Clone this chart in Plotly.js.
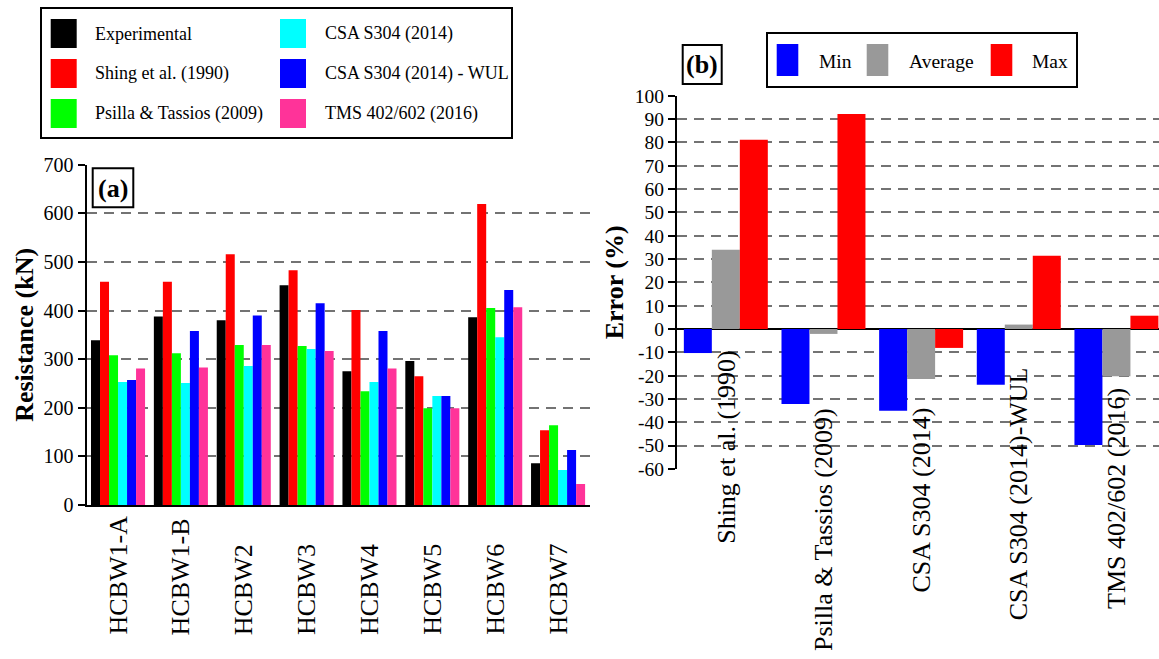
<!DOCTYPE html>
<html>
<head>
<meta charset="utf-8">
<script src="https://cdn.plot.ly/plotly-3.0.1.min.js"></script>
<style>html,body{margin:0;padding:0;background:#fff;}#chart{width:1159px;height:659px;}</style>
</head>
<body>
<div id="chart"></div>
<script>
// ---------- Data (a) ----------
const categories = ['HCBW1-A','HCBW1-B','HCBW2','HCBW3','HCBW4','HCBW5','HCBW6','HCBW7'];
const experimental = [339, 388, 380, 452, 275, 296, 386, 86];
const shing        = [459, 459, 516, 483, 401, 265, 619, 154];
const psilla       = [308, 312, 329, 327, 234, 199, 405, 164];
const csa          = [253, 251, 286, 321, 253, 224, 345, 72];
const csaWul       = [257, 358, 390, 415, 358, 224, 442, 113];
const tms          = [281, 283, 329, 317, 281, 199, 407, 43];
const seriesNames  = ['Experimental','Shing et al. (1990)','Psilla & Tassios (2009)','CSA S304 (2014)','CSA S304 (2014) - WUL','TMS 402/602 (2016)'];
const resistanceTicks = [0,100,200,300,400,500,600,700];

// ---------- Data (b) ----------
const methods = ['Shing et al. (1990)','Psilla & Tassios (2009)','CSA S304 (2014)','CSA S304 (2014)-WUL','TMS 402/602 (2016)'];
const errMin = [-10.3, -32.1, -35.0, -23.9, -49.7];
const errAvg = [34.0, -2.1, -21.4, 1.9, -20.3];
const errMax = [81.1, 92.2, -8.1, 31.4, 5.7];
const errNames = ['Min','Average','Max'];
const errorTicks = [-60,-50,-40,-30,-20,-10,0,10,20,30,40,50,60,70,80,90,100];

// ---------- Styles ----------
const W = 1159, H = 659;
const PX = x => x / W;
const PY = y => 1 - y / H;
const FONT = 'Liberation Serif';
const colorsA = ['#000000','#ff0000','#00ff00','#00ffff','#0000ff','#ff3399'];
const colorsB = ['#0000ff','#999999','#ff0000'];
const seriesA = [experimental, shing, psilla, csa, csaWul, tms];
const seriesB = [errMin, errAvg, errMax];

const traces = [];
seriesA.forEach((vals, i) => traces.push({
  type: 'bar', name: seriesNames[i], x: categories, y: vals,
  marker: {color: colorsA[i], line: {width: 0}},
  xaxis: 'x', yaxis: 'y', showlegend: false, hoverinfo: 'x+y+name'
}));
seriesB.forEach((vals, i) => traces.push({
  type: 'bar', name: errNames[i], x: methods, y: vals,
  marker: {color: colorsB[i], line: {width: 0}},
  xaxis: 'x2', yaxis: 'y2', showlegend: false, hoverinfo: 'x+y+name'
}));

const gridStyle = {gridcolor: '#737373', gridwidth: 2, griddash: '10px,7px'};

const shapes = [];
const annotations = [];

// Legend (a)
shapes.push({type:'rect', xref:'paper', yref:'paper', x0:PX(41), x1:PX(512), y0:PY(8), y1:PY(138), line:{color:'#000', width:2}, fillcolor:'rgba(0,0,0,0)'});
const legRowsA = [33.5, 73.5, 113.5];
const legColA = [{sx:50.7, tx:93}, {sx:280, tx:323}];
seriesNames.forEach((nm, i) => {
  const col = legColA[Math.floor(i/3)], ry = legRowsA[i%3];
  shapes.push({type:'rect', xref:'paper', yref:'paper', x0:PX(col.sx), x1:PX(col.sx+26), y0:PY(ry-14.5), y1:PY(ry+14.5), line:{width:0}, fillcolor:colorsA[i]});
  annotations.push({xref:'paper', yref:'paper', x:PX(col.tx), y:PY(ry), xanchor:'left', yanchor:'middle', text:nm, showarrow:false, font:{family:FONT, size:18, color:'#000'}});
});

// Legend (b)
shapes.push({type:'rect', xref:'paper', yref:'paper', x0:PX(767), x1:PX(1077), y0:PY(33), y1:PY(87), line:{color:'#000', width:2}, fillcolor:'rgba(0,0,0,0)'});
const legB = [{sx:776.7, tx:817}, {sx:866.7, tx:906.5}, {sx:990.7, tx:1030}];
errNames.forEach((nm, i) => {
  shapes.push({type:'rect', xref:'paper', yref:'paper', x0:PX(legB[i].sx), x1:PX(legB[i].sx+21.6), y0:PY(44), y1:PY(76), line:{width:0}, fillcolor:colorsB[i]});
  annotations.push({xref:'paper', yref:'paper', x:PX(legB[i].tx), y:PY(61), xanchor:'left', yanchor:'middle', text:nm, showarrow:false, font:{family:FONT, size:19.5, color:'#000'}});
});

// Panel labels
shapes.push({type:'rect', xref:'paper', yref:'paper', x0:PX(92.7), x1:PX(133.3), y0:PY(168.3), y1:PY(207.3), line:{color:'#000', width:2}, fillcolor:'#fff'});
annotations.push({xref:'paper', yref:'paper', x:PX(113), y:PY(188), xanchor:'center', yanchor:'middle', text:'<b>(a)</b>', showarrow:false, font:{family:FONT, size:26, color:'#000'}});
shapes.push({type:'rect', xref:'paper', yref:'paper', x0:PX(682.7), x1:PX(721.7), y0:PY(45), y1:PY(84), line:{color:'#000', width:2}, fillcolor:'#fff'});
annotations.push({xref:'paper', yref:'paper', x:PX(702.2), y:PY(64.5), xanchor:'center', yanchor:'middle', text:'<b>(b)</b>', showarrow:false, font:{family:FONT, size:26, color:'#000'}});

// Category labels (a): bottom-aligned, rotated
categories.forEach(c => annotations.push({xref:'x', yref:'paper', x:c, y:PY(637), xanchor:'center', yanchor:'bottom', textangle:-90, text:c, showarrow:false, font:{family:FONT, size:26, color:'#000'}}));
// Method labels (b)
const methodLabelTop = [348, 406, 406, 365, 386];
methods.forEach((m, i) => annotations.push({xref:'x2', yref:'paper', x:m, y:PY(methodLabelTop[i]), xanchor:'center', yanchor:'top', textangle:-90, text:m, showarrow:false, font:{family:FONT, size:26, color:'#000'}}));

const layout = {
  width: W, height: H, autosize: false,
  margin: {l:0, r:0, t:0, b:0},
  paper_bgcolor: '#fff', plot_bgcolor: 'rgba(0,0,0,0)',
  barmode: 'group', bargap: 0.14, bargroupgap: 0,
  showlegend: false,
  font: {family: FONT, color: '#000'},
  xaxis: {domain:[PX(86.6), PX(589.5)], anchor:'y', type:'category', range:[-0.5, 7.5], showticklabels:false, ticks:'', showline:true, linecolor:'#000', linewidth:2, showgrid:false, zeroline:false, fixedrange:true},
  yaxis: Object.assign({domain:[PY(505), PY(164.7)], anchor:'x', range:[0, 700], tickvals:resistanceTicks, ticktext:resistanceTicks.map(String), ticks:'outside', ticklen:7, tickwidth:2, tickcolor:'#000', showline:true, linecolor:'#000', linewidth:2, zeroline:false, showgrid:true, tickfont:{family:FONT, size:20, color:'#000'}, title:{text:'<b>Resistance (kN)</b>', font:{family:FONT, size:26, color:'#000'}, standoff:2}}, gridStyle),
  xaxis2: {domain:[PX(677), 1], anchor:'y2', type:'category', range:[-0.5, 4.436], showticklabels:false, ticks:'', showline:false, showgrid:false, zeroline:false, fixedrange:true},
  yaxis2: Object.assign({domain:[PY(469), PY(95.7)], anchor:'x2', range:[-60, 100], tickvals:errorTicks, ticktext:errorTicks.map(String), ticks:'outside', ticklen:7, tickwidth:2, tickcolor:'#000', showline:true, linecolor:'#000', linewidth:2, zeroline:true, zerolinecolor:'#000', zerolinewidth:1.5, showgrid:true, tickfont:{family:FONT, size:19.5, color:'#000'}, title:{text:'<b>Error (%)</b>', font:{family:FONT, size:26, color:'#000'}, standoff:4}}, gridStyle),
  shapes: shapes,
  annotations: annotations
};

Plotly.newPlot('chart', traces, layout, {displayModeBar:false, staticPlot:true});
</script>
</body>
</html>
